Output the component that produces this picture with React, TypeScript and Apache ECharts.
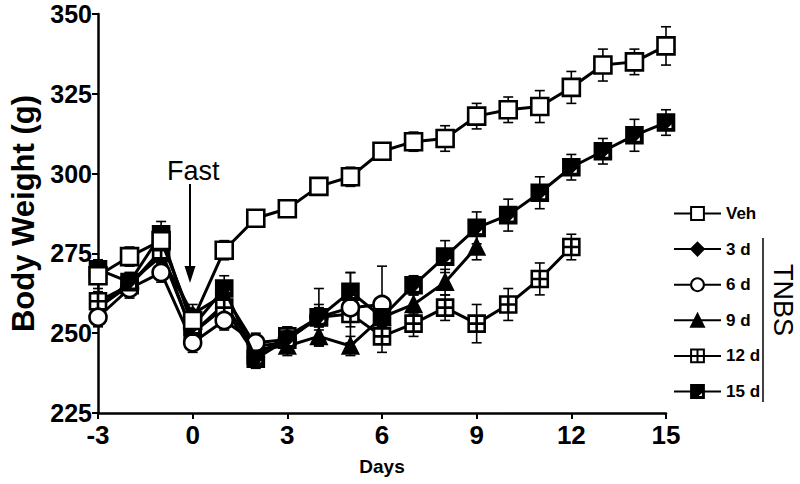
import React, { useEffect, useRef } from "react";
import * as echarts from "echarts";

const days = [-3, -2, -1, 0, 1, 2, 3, 4, 5, 6, 7, 8, 9, 10, 11, 12, 13, 14, 15];
const xTicks = [-3, 0, 3, 6, 9, 12, 15];
const yTicks = [225, 250, 275, 300, 325, 350];

const vehMean = [268, 274, 279, 254, 276, 286, 289, 296, 299, 307, 310, 311, 318, 320, 321, 327, 334, 335, 340];
const vehSem = [4, 3, 3, 3, 3, 2, 2, 2, 3, 2, 3, 4, 4, 4, 5, 5, 5, 4, 6];
const d3Mean = [258, 266, 274, 256, 262, 246, 247];
const d3Sem = [3, 3, 3, 3, 3, 3, 3];
const d6Mean = [255, 264, 269, 247, 254, 247, 248, 255, 258, 259];
const d6Sem = [3, 3, 3, 3, 3, 3, 3, 9, 11, 12];
const d9Mean = [258, 265, 275, 250, 259, 245, 246, 249, 246, 255, 259, 266, 277];
const d9Sem = [3, 3, 3, 3, 3, 3, 3, 3, 3, 3, 3, 4, 4];
const d12Mean = [260, 265, 276, 250, 258, 243, 249, 255, 256, 249, 253, 258, 253, 259, 267, 277];
const d12Sem = [3, 3, 3, 3, 3, 3, 3, 3, 4, 5, 4, 4, 6, 5, 5, 4];
const d15Mean = [270, 266, 281, 252, 264, 242, 248, 255, 263, 255, 265, 274, 283, 287, 294, 302, 307, 312, 316];
const d15Sem = [3, 3, 4, 3, 4, 3, 4, 4, 6, 4, 3, 5, 5, 5, 5, 4, 4, 5, 4];

const legendNames = ["Veh", "3 d", "6 d", "9 d", "12 d", "15 d"];

const SQUARE = "rect";
const CROSS_SQUARE = "path://M0,0H10V10H0Z M5,0.5V9.5 M0.5,5H9.5";
const TRI_SQUARE = "path://M0,0H10V10H0Z M9.2,4.2L4.2,9.2L9.2,9.2Z";

export default function App() {
  const ref = useRef<HTMLDivElement>(null);
  useEffect(() => {
    if (!ref.current) return;
    const chart = echarts.init(ref.current, undefined, { renderer: "svg" });

    const pts = (mean: number[]) => mean.map((v, i) => [days[i], v]);
    const errs = (mean: number[], sem: number[]) => mean.map((v, i) => [days[i], v - sem[i], v + sem[i]]);

    const errSeries = (mean: number[], sem: number[]) => ({
      type: "custom",
      z: 1,
      silent: true,
      data: errs(mean, sem),
      renderItem: (params: any, api: any) => {
        const x = api.value(0);
        const lo = api.coord([x, api.value(1)]);
        const hi = api.coord([x, api.value(2)]);
        const w = 5;
        const st = { stroke: "#000", lineWidth: 1.6 };
        return {
          type: "group",
          children: [
            { type: "line", shape: { x1: lo[0], y1: lo[1], x2: hi[0], y2: hi[1] }, style: st },
            { type: "line", shape: { x1: hi[0] - w, y1: hi[1], x2: hi[0] + w, y2: hi[1] }, style: st },
            { type: "line", shape: { x1: lo[0] - w, y1: lo[1], x2: lo[0] + w, y2: lo[1] }, style: st },
          ],
        };
      },
    });

    const lineSeries = (name: string, mean: number[], symbol: string, size: number, fill: string, z: number) => ({
      name,
      type: "line",
      z,
      data: pts(mean),
      symbol,
      symbolSize: size,
      showAllSymbol: true,
      lineStyle: { color: "#000", width: 3 },
      itemStyle: { color: fill, borderColor: "#000", borderWidth: 2.6 },
      emphasis: { disabled: true },
    });

    const labelFont = { fontFamily: "Liberation Sans", fontWeight: "bold", color: "#000" };

    chart.setOption({
      animation: false,
      grid: { left: 92, right: 134, top: 14, bottom: 71 },
      xAxis: {
        type: "value",
        min: -3,
        max: 15,
        interval: 3,
        name: "Days",
        nameLocation: "middle",
        nameGap: 44,
        nameTextStyle: { ...labelFont, fontSize: 19 },
        axisLine: { onZero: false, lineStyle: { color: "#000", width: 2.5 } },
        axisTick: { show: true, length: 6, lineStyle: { color: "#000", width: 2 } },
        axisLabel: { ...labelFont, fontSize: 26, margin: 9, formatter: (v: number) => (xTicks.includes(v) ? String(v) : "") },
        splitLine: { show: false },
      },
      yAxis: {
        type: "value",
        min: 225,
        max: 350,
        interval: 25,
        name: "Body Weight (g)",
        nameLocation: "middle",
        nameGap: 59,
        nameTextStyle: { ...labelFont, fontSize: 31 },
        axisLine: { show: true, onZero: false, lineStyle: { color: "#000", width: 2.5 } },
        axisTick: { show: true, length: 6, lineStyle: { color: "#000", width: 2 } },
        axisLabel: { ...labelFont, fontSize: 25, margin: 6, formatter: (v: number) => (yTicks.includes(v) ? String(v) : "") },
        splitLine: { show: false },
      },
      legend: {
        orient: "vertical",
        left: 668,
        top: 200,
        itemWidth: 47,
        itemHeight: 16,
        itemGap: 18.6,
        data: legendNames,
        selectedMode: false,
        textStyle: { ...labelFont, fontSize: 17, lineHeight: 16 },
      },
      series: [
        errSeries(d3Mean, d3Sem),
        errSeries(d6Mean, d6Sem),
        errSeries(d9Mean, d9Sem),
        errSeries(d12Mean, d12Sem),
        errSeries(d15Mean, d15Sem),
        errSeries(vehMean, vehSem),
        lineSeries("3 d", d3Mean, "diamond", 13, "#000", 2),
        lineSeries("9 d", d9Mean, "triangle", 15, "#000", 3),
        lineSeries("12 d", d12Mean, CROSS_SQUARE, 16, "#fff", 4),
        lineSeries("6 d", d6Mean, "circle", 17, "#fff", 5),
        lineSeries("15 d", d15Mean, TRI_SQUARE, 16, "#000", 6),
        lineSeries("Veh", vehMean, SQUARE, 17, "#fff", 7),
      ],
      graphic: [
        {
          type: "text",
          left: 167,
          top: 157,
          style: { text: "Fast", font: "27px 'Liberation Sans'", fill: "#000" },
        },
        { type: "line", shape: { x1: 190, y1: 184, x2: 190, y2: 274 }, style: { stroke: "#000", lineWidth: 2 } },
        { type: "polygon", shape: { points: [[184.5, 266], [195.5, 266], [190, 283]] }, style: { fill: "#000" } },
        { type: "line", shape: { x1: 763, y1: 238, x2: 763, y2: 402 }, style: { stroke: "#000", lineWidth: 1.5 } },
        {
          type: "text",
          x: 783,
          y: 300,
          rotation: -Math.PI / 2,
          style: { text: "TNBS", font: "27px 'Liberation Sans'", fill: "#000", align: "center", verticalAlign: "middle" },
        },
      ],
    });
    return () => chart.dispose();
  }, []);
  return <div ref={ref} style={{ position: "absolute", left: 0, top: 0, width: 800, height: 484 }} />;
}
